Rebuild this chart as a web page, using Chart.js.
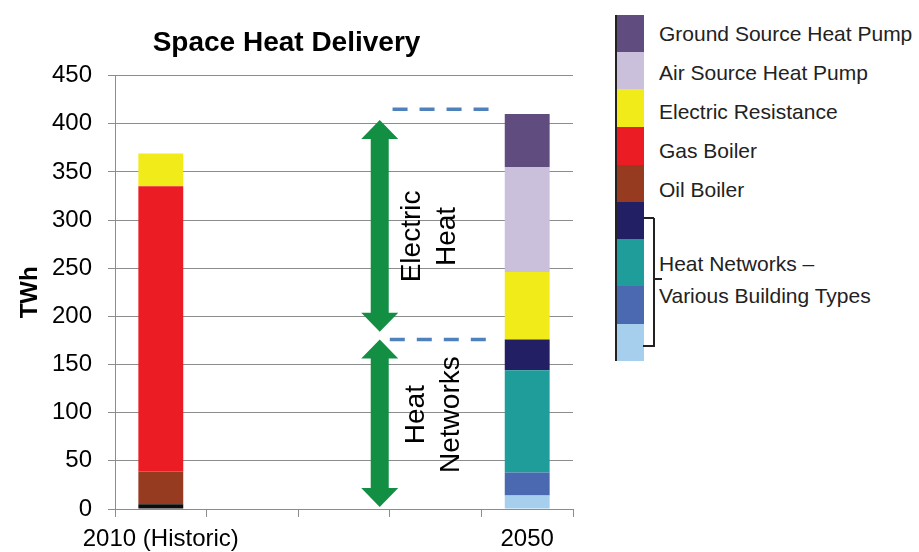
<!DOCTYPE html>
<html>
<head>
<meta charset="utf-8">
<script src="https://cdn.jsdelivr.net/npm/chart.js@4.4.1/dist/chart.umd.min.js"></script>
<style>
  body { margin: 0; background: #fff; font-family: "Liberation Sans", Arial, sans-serif; }
  #wrap { position: relative; width: 919px; height: 552px; }
  #chart { position: absolute; left: 0; top: 0; }
  .sw { position: absolute; left: 616px; width: 28px; }
  .lbl { position: absolute; left: 659px; font-size: 21px; line-height: 24px; color: #222; white-space: nowrap; }
  .br { position: absolute; background: #222; }
</style>
</head>
<body>
<div id="wrap">
  <canvas id="chart" width="592" height="552"></canvas>
  <div id="legend"></div>
</div>
<script>
// categories (only first and last carry bars)
const categories = ['2010 (Historic)', '', '', '', '2050'];

// TWh values, bottom to top of each stack
const other              = [5,   null, null, null, 0];
const oilBoiler          = [34,  null, null, null, 0];
const gasBoiler          = [296, null, null, null, 0];
const hnLightBlue        = [0,   null, null, null, 14];
const hnMidBlue          = [0,   null, null, null, 24];
const hnTeal             = [0,   null, null, null, 106];
const hnNavy             = [0,   null, null, null, 32];
const electricResistance = [34,  null, null, null, 70];
const airSourceHP        = [0,   null, null, null, 109];
const groundSourceHP     = [0,   null, null, null, 55];

const yTicks = [0, 50, 100, 150, 200, 250, 300, 350, 400, 450];

// annotation levels (TWh) and positions (category index)
const dashLevels = [415, 176];
const arrowSpans = [[404, 184], [176, 2]];
const arrowLabels = [['Electric', 'Heat'], ['Heat', 'Networks']];
const arrowLabelLevels = [283, 98];

const datasets = [
  { label: 'Other', data: other, backgroundColor: '#0d0d0d' },
  { label: 'Oil Boiler', data: oilBoiler, backgroundColor: '#963a20' },
  { label: 'Gas Boiler', data: gasBoiler, backgroundColor: '#ec1c24' },
  { label: 'HN 4', data: hnLightBlue, backgroundColor: '#a6cfee' },
  { label: 'HN 3', data: hnMidBlue, backgroundColor: '#4a69b1' },
  { label: 'HN 2', data: hnTeal, backgroundColor: '#1f9d9b' },
  { label: 'HN 1', data: hnNavy, backgroundColor: '#231f65' },
  { label: 'Electric Resistance', data: electricResistance, backgroundColor: '#f2eb1a' },
  { label: 'Air Source Heat Pump', data: airSourceHP, backgroundColor: '#cbc0db' },
  { label: 'Ground Source Heat Pump', data: groundSourceHP, backgroundColor: '#614c80' }
];
datasets.forEach(d => {
  d.barPercentage = 0.49;
  d.categoryPercentage = 1.0;
  d.borderWidth = 0;
});

function drawArrow(ctx, x, y1, y2) {
  const sw = 9, hw = 18.5, hl = 19;
  ctx.beginPath();
  ctx.moveTo(x, y1);
  ctx.lineTo(x + hw, y1 + hl);
  ctx.lineTo(x + sw, y1 + hl);
  ctx.lineTo(x + sw, y2 - hl);
  ctx.lineTo(x + hw, y2 - hl);
  ctx.lineTo(x, y2);
  ctx.lineTo(x - hw, y2 - hl);
  ctx.lineTo(x - sw, y2 - hl);
  ctx.lineTo(x - sw, y1 + hl);
  ctx.lineTo(x - hw, y1 + hl);
  ctx.closePath();
  ctx.fill();
}

const annotations = {
  id: 'annotations',
  afterDatasetsDraw(chart) {
    const ctx = chart.ctx;
    const xs = chart.scales.x, ys = chart.scales.y;
    ctx.save();
    // dashed levels
    ctx.strokeStyle = '#4f81bd';
    ctx.lineWidth = 3.5;
    ctx.setLineDash([15, 12]);
    const dashX = [[2.53, 3.59], [2.50, 3.55]];
    dashLevels.forEach((v, i) => {
      ctx.beginPath();
      ctx.moveTo(xs.getPixelForValue(dashX[i][0]), ys.getPixelForValue(v));
      ctx.lineTo(xs.getPixelForValue(dashX[i][1]), ys.getPixelForValue(v));
      ctx.stroke();
    });
    ctx.setLineDash([]);
    // arrows
    ctx.fillStyle = '#138f44';
    const ax = xs.getPixelForValue(2.39);
    arrowSpans.forEach(s => {
      drawArrow(ctx, ax, ys.getPixelForValue(s[0]), ys.getPixelForValue(s[1]));
    });
    // rotated labels
    ctx.fillStyle = '#000';
    ctx.font = '28px "Liberation Sans", Arial, sans-serif';
    ctx.textAlign = 'center';
    ctx.textBaseline = 'middle';
    const lx = [2.93, 2.97];
    arrowLabels.forEach((lines, i) => {
      ctx.save();
      ctx.translate(xs.getPixelForValue(lx[i]), ys.getPixelForValue(arrowLabelLevels[i]));
      ctx.rotate(-Math.PI / 2);
      ctx.fillText(lines[0], 0, -17);
      ctx.fillText(lines[1], 0, 18);
      ctx.restore();
    });
    ctx.restore();
  }
};

new Chart(document.getElementById('chart'), {
  type: 'bar',
  data: { labels: categories, datasets: datasets },
  options: {
    responsive: false,
    animation: false,
    layout: { padding: { left: 0, right: 19, top: 0, bottom: 0 } },
    plugins: {
      legend: { display: false },
      tooltip: { enabled: false },
      title: {
        display: true,
        text: 'Space Heat Delivery',
        color: '#000',
        font: { family: '"Liberation Sans", Arial, sans-serif', size: 28, weight: 'bold' },
        padding: { top: 26, bottom: 16 }
      }
    },
    scales: {
      x: {
        stacked: true,
        afterFit(scale) { scale.height = 43; },
        grid: { display: true, drawOnChartArea: false, drawTicks: true, tickLength: 8, offset: true, color: '#8c8c8c' },
        border: { display: true, color: '#8c8c8c' },
        ticks: {
          autoSkip: false, maxRotation: 0, padding: 8, color: '#000',
          font: { family: '"Liberation Sans", Arial, sans-serif', size: 24 }
        }
      },
      y: {
        stacked: true,
        min: 0,
        max: 450,
        afterFit(scale) { scale.width = 115; },
        afterBuildTicks(scale) { scale.ticks = yTicks.map(v => ({ value: v })); },
        grid: { color: '#8c8c8c', tickLength: 7 },
        border: { display: true, color: '#8c8c8c' },
        ticks: {
          padding: 16, color: '#000',
          font: { family: '"Liberation Sans", Arial, sans-serif', size: 24 }
        },
        title: {
          display: true,
          text: 'TWh',
          color: '#000',
          padding: { top: 16, bottom: 4 },
          font: { family: '"Liberation Sans", Arial, sans-serif', size: 24, weight: 'bold' }
        }
      }
    }
  },
  plugins: [annotations]
});

// legend built from the datasets (top of stack first)
const legend = document.getElementById('legend');
const swatchRows = [
  ['Ground Source Heat Pump', 15, 37],
  ['Air Source Heat Pump', 52, 37],
  ['Electric Resistance', 89, 38],
  ['Gas Boiler', 127, 38],
  ['Oil Boiler', 165, 37],
  ['HN 1', 202, 37],
  ['HN 2', 239, 47],
  ['HN 3', 286, 38],
  ['HN 4', 324, 37]
];
let textRow = 0;
swatchRows.forEach(r => {
  const ds = datasets.find(d => d.label === r[0]);
  const sw = document.createElement('div');
  sw.className = 'sw';
  sw.style.top = r[1] + 'px';
  sw.style.height = r[2] + 'px';
  sw.style.background = ds.backgroundColor;
  legend.appendChild(sw);
  if (!r[0].startsWith('HN')) {
    const t = document.createElement('div');
    t.className = 'lbl';
    t.style.top = (22 + textRow * 39) + 'px';
    t.textContent = r[0];
    legend.appendChild(t);
    textRow++;
  }
});
const edge = document.createElement('div');
edge.className = 'br';
edge.style.cssText = 'left:615px;top:15px;width:2px;height:346px;';
legend.appendChild(edge);

const hn1 = document.createElement('div');
hn1.className = 'lbl';
hn1.style.top = '252px';
hn1.textContent = 'Heat Networks \u2013';
legend.appendChild(hn1);
const hn2 = document.createElement('div');
hn2.className = 'lbl';
hn2.style.top = '284px';
hn2.textContent = 'Various Building Types';
legend.appendChild(hn2);

[
  'left:653px;top:218px;width:2px;height:129px;',
  'left:643px;top:217px;width:11px;height:2px;',
  'left:643px;top:345px;width:11px;height:2px;',
  'left:653px;top:278px;width:9px;height:2px;'
].forEach(css => {
  const b = document.createElement('div');
  b.className = 'br';
  b.style.cssText = css;
  legend.appendChild(b);
});
</script>
</body>
</html>
